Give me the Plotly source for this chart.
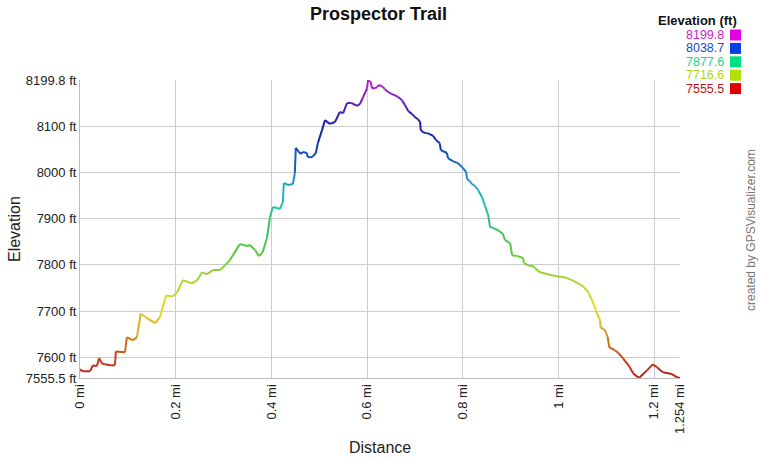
import plotly.graph_objects as go
from plotly.colors import sample_colorscale

distance_mi = [0.000, 0.006, 0.021, 0.027, 0.035, 0.040, 0.046, 0.052, 0.063, 0.073,
               0.075, 0.094, 0.098, 0.111, 0.119, 0.127, 0.140, 0.157, 0.167, 0.180,
               0.194, 0.203, 0.215, 0.226, 0.234, 0.245, 0.255, 0.265, 0.278, 0.293,
               0.303, 0.313, 0.334, 0.349, 0.355, 0.366, 0.374, 0.382, 0.391, 0.397,
               0.403, 0.412, 0.418, 0.424, 0.426, 0.435, 0.445, 0.449, 0.451, 0.456,
               0.461, 0.466, 0.474, 0.476, 0.485, 0.493, 0.497, 0.506, 0.512, 0.522,
               0.533, 0.539, 0.543, 0.550, 0.558, 0.568, 0.579, 0.585, 0.591, 0.600,
               0.602, 0.608, 0.610, 0.617, 0.621, 0.625, 0.633, 0.637, 0.644, 0.652,
               0.658, 0.665, 0.673, 0.679, 0.686, 0.694, 0.700, 0.706, 0.711, 0.712,
               0.717, 0.724, 0.731, 0.738, 0.744, 0.752, 0.754, 0.767, 0.769, 0.780,
               0.790, 0.798, 0.807, 0.809, 0.815, 0.819, 0.826, 0.832, 0.840, 0.846,
               0.853, 0.857, 0.863, 0.874, 0.884, 0.888, 0.899, 0.903, 0.915, 0.926,
               0.928, 0.936, 0.947, 0.951, 0.961, 0.978, 0.993, 1.014, 1.028, 1.041,
               1.051, 1.062, 1.070, 1.078, 1.087, 1.088, 1.097, 1.103, 1.106, 1.118,
               1.124, 1.135, 1.149, 1.156, 1.166, 1.170, 1.185, 1.197, 1.206, 1.218,
               1.237, 1.248, 1.254]
elevation_ft = [7574, 7570, 7570, 7583, 7581, 7598, 7587, 7585, 7583, 7583,
                7613, 7611, 7644, 7637, 7644, 7695, 7685, 7674, 7687, 7734,
                7732, 7741, 7767, 7763, 7760, 7767, 7784, 7780, 7789, 7789,
                7799, 7810, 7845, 7841, 7843, 7832, 7819, 7828, 7860, 7903,
                7925, 7923, 7921, 7936, 7977, 7973, 7975, 7999, 8053, 8046,
                8040, 8044, 8042, 8033, 8033, 8042, 8063, 8092, 8113, 8105,
                8109, 8122, 8131, 8128, 8150, 8150, 8144, 8148, 8161, 8182,
                8199.8, 8195, 8182, 8182, 8185, 8189, 8185, 8180, 8174, 8169,
                8167, 8163, 8156, 8146, 8133, 8126, 8120, 8115, 8109, 8092,
                8087, 8085, 8083, 8079, 8070, 8063, 8048, 8042, 8031, 8024,
                8020, 8012, 8001, 7986, 7981, 7975, 7970, 7962, 7947, 7929,
                7908, 7882, 7880, 7875, 7867, 7854, 7847, 7821, 7819, 7815,
                7804, 7799, 7797, 7793, 7784, 7780, 7776, 7773, 7767, 7760,
                7754, 7741, 7724, 7702, 7680, 7665, 7659, 7644, 7622, 7615,
                7611, 7598, 7579, 7566, 7557, 7557, 7572, 7585, 7579, 7568,
                7564, 7557, 7555.5]

y_min, y_max = 7555.5, 8199.8
x_max = 1.254
y_tickvals = [7555.5, 7600, 7700, 7800, 7900, 8000, 8100, 8199.8]
y_ticktext = ["7555.5 ft", "7600 ft", "7700 ft", "7800 ft", "7900 ft", "8000 ft", "8100 ft", "8199.8 ft"]
x_tickvals = [0, 0.2, 0.4, 0.6, 0.8, 1.0, 1.2, 1.254]
x_ticktext = ["0 mi", "0.2 mi", "0.4 mi", "0.6 mi", "0.8 mi", "1 mi", "1.2 mi", "1.254 mi"]

legend_values = ["8199.8", "8038.7", "7877.6", "7716.6", "7555.5"]
legend_text_colors = ["#d020d0", "#1848c8", "#28d088", "#b0d810", "#c01018"]
legend_box_colors = ["#e000e0", "#0040e0", "#00e080", "#b0e000", "#e00000"]

line_scale = [
    [0.00, "#b42020"], [0.08, "#c44a18"], [0.16, "#d8a020"], [0.23, "#e0e020"],
    [0.33, "#a8d830"], [0.43, "#58c840"], [0.52, "#30c070"], [0.60, "#20c0c0"],
    [0.68, "#2088d0"], [0.75, "#1050b0"], [0.83, "#1020a0"], [0.91, "#5020b8"],
    [1.00, "#c020d0"],
]

fig = go.Figure()
for i in range(len(distance_mi) - 1):
    mid = (elevation_ft[i] + elevation_ft[i + 1]) / 2
    t = min(max((mid - y_min) / (y_max - y_min), 0), 1)
    col = sample_colorscale(line_scale, [t])[0]
    fig.add_trace(go.Scatter(
        x=[distance_mi[i], distance_mi[i + 1]],
        y=[elevation_ft[i], elevation_ft[i + 1]],
        mode="lines", line=dict(color=col, width=2),
        showlegend=False, hoverinfo="skip"))

L, R, T, B = 80, 680, 80, 378
PW, PH = R - L, B - T


def px(x):
    return (x - L) / PW


def py(y):
    return (B - y) / PH


font = "Liberation Sans, Arial, sans-serif"
fig.update_layout(
    width=760, height=460,
    margin=dict(l=L, r=760 - R, t=T, b=460 - B, autoexpand=False),
    paper_bgcolor="white", plot_bgcolor="white",
    font=dict(family=font, color="#222222"),
    xaxis=dict(range=[0, x_max], tickvals=x_tickvals, ticktext=x_ticktext,
               tickangle=-90, showgrid=True, gridcolor="#cccccc", gridwidth=1,
               showline=True, linecolor="#bbbbbb", zeroline=False, automargin=False,
               tickfont=dict(size=13, color="#222222"), ticks=""),
    yaxis=dict(range=[y_min, y_max], tickvals=y_tickvals, ticktext=y_ticktext,
               showgrid=True, gridcolor="#cccccc", gridwidth=1,
               showline=True, linecolor="#bbbbbb", zeroline=False, automargin=False,
               tickfont=dict(size=13, color="#222222"), ticks=""),
)

# Title and axis titles
fig.add_annotation(xref="paper", yref="paper", x=px(378), y=py(14),
                   text="<b>Prospector Trail</b>", showarrow=False,
                   xanchor="center", yanchor="middle", font=dict(size=18, color="#111111"))
fig.add_annotation(xref="paper", yref="paper", x=px(380), y=py(447),
                   text="Distance", showarrow=False,
                   xanchor="center", yanchor="middle", font=dict(size=16, color="#222222"))
fig.add_annotation(xref="paper", yref="paper", x=px(14), y=py(229),
                   text="Elevation", showarrow=False, textangle=-90,
                   xanchor="center", yanchor="middle", font=dict(size=16, color="#222222"))

# Legend header and entries
fig.add_annotation(xref="paper", yref="paper", x=px(739), y=py(21),
                   text="<b>Elevation (ft)</b>", showarrow=False, xanchor="right",
                   yanchor="middle", font=dict(size=13, color="#111111"))
for k, (val, tc, bc) in enumerate(zip(legend_values, legend_text_colors, legend_box_colors)):
    yc = 35 + k * 13.4
    fig.add_annotation(xref="paper", yref="paper", x=px(725), y=py(yc),
                       text=val, showarrow=False, borderpad=0,
                       xanchor="right", yanchor="middle", font=dict(size=12.5, color=tc))
    fig.add_shape(type="rect", xref="paper", yref="paper",
                  x0=px(730), x1=px(741), y0=py(yc + 5.5), y1=py(yc - 5.5),
                  fillcolor=bc, line=dict(width=0))

fig.add_annotation(xref="paper", yref="paper", x=px(751), y=py(230),
                   text="created by GPSVisualizer.com", showarrow=False, textangle=-90,
                   borderpad=0, xanchor="center", yanchor="middle",
                   font=dict(size=12, color="#777777"))

fig.write_html("out.html", config={"displayModeBar": False},
               post_script="document.body.style.margin='0';document.body.style.padding='0';"
                           "document.body.style.overflow='hidden';")
